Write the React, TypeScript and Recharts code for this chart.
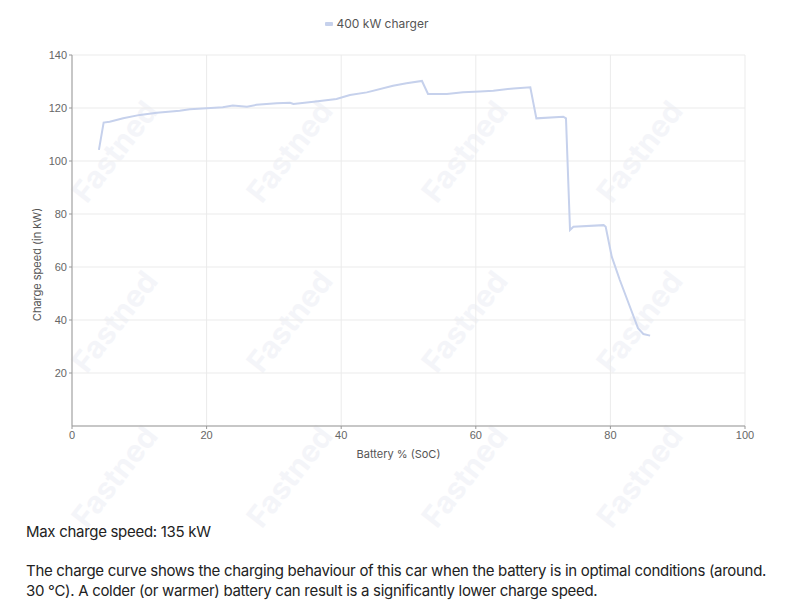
import { LineChart, Line, XAxis, YAxis, CartesianGrid, Legend } from 'recharts';

// values
const soc = [4.0, 4.7, 5.6, 7.6, 10.1, 12.6, 16.0, 17.5, 20.0, 22.4, 23.9, 26.0, 27.4, 30.4, 32.4, 32.9, 35.9, 39.3, 41.3, 43.8, 47.7, 49.7, 52.0, 52.9, 55.7, 58.1, 60.6, 62.6, 65.6, 68.1, 69.0, 73.0, 73.4, 74.0, 74.5, 79.0, 79.3, 80.2, 81.4, 82.9, 84.1, 84.9, 85.9];
const power = [104.2, 114.5, 114.8, 116.1, 117.4, 118.2, 119.0, 119.5, 119.9, 120.3, 120.9, 120.5, 121.2, 121.8, 122.0, 121.5, 122.4, 123.4, 124.9, 125.9, 128.4, 129.3, 130.2, 125.3, 125.3, 125.9, 126.2, 126.5, 127.4, 127.8, 116.1, 116.7, 116.1, 74.0, 75.2, 75.8, 75.2, 63.9, 55.1, 45.0, 36.9, 34.7, 34.1];
const xTicks = [0, 20, 40, 60, 80, 100];
const yTicks = [20, 40, 60, 80, 100, 120, 140];

const data = soc.map((s, i) => ({ soc: s, kw: power[i] }));

const lineColor = '#c6d1ec';
const tickStyle = { fontSize: 11, fill: '#666', fontFamily: '"Liberation Sans", Arial, sans-serif' };
const labelFont = 'Inter, "Noto Sans", sans-serif';

// faint brand watermark behind the chart
const markCols = [115, 290, 465, 640];
const markRows = [150, 320, 475];

function Watermark() {
  return (
    <svg width={784} height={560} style={{ position: 'absolute', left: 0, top: 0 }}>
      {markRows.map((y) =>
        markCols.map((x) => (
          <text
            key={`${x}-${y}`}
            x={x}
            y={y}
            transform={`rotate(-52 ${x} ${y})`}
            textAnchor="middle"
            fontSize={30}
            fontWeight={700}
            fontFamily={labelFont}
            fill="#f4f5f9"
          >
            Fastned
          </text>
        ))
      )}
    </svg>
  );
}

function LegendContent({ payload }: any) {
  return (
    <div style={{ display: 'flex', justifyContent: 'center', alignItems: 'center', fontFamily: labelFont, fontSize: 12, color: '#555' }}>
      {(payload || []).map((p: any) => (
        <span key={p.value} style={{ display: 'flex', alignItems: 'center' }}>
          <span style={{ width: 8, height: 4, background: p.color, borderRadius: 1, marginRight: 4 }} />
          {p.value}
        </span>
      ))}
    </div>
  );
}

function YLabel({ viewBox }: any) {
  const x = viewBox.x + 29;
  const y = viewBox.y + viewBox.height / 2 + 24;
  return (
    <text x={x} y={y} transform={`rotate(-90 ${x} ${y})`} textAnchor="middle" dominantBaseline="central" fontSize={11} fill="#555" fontFamily={labelFont}>
      Charge speed (in kW)
    </text>
  );
}

function XLabel({ viewBox }: any) {
  const x = viewBox.x + viewBox.width / 2 - 10;
  const y = viewBox.y + 32;
  return (
    <text x={x} y={y} textAnchor="middle" fontSize={11} fill="#555" fontFamily={labelFont}>
      Battery % (SoC)
    </text>
  );
}

export default function App() {
  return (
    <div style={{ position: 'relative', width: 784 }}>
      <Watermark />
      <LineChart width={784} height={490} data={data} margin={{ top: 32, right: 47, left: 0, bottom: 22 }}>
        <CartesianGrid stroke="#ebebeb" />
        <XAxis
          dataKey="soc"
          type="number"
          domain={[0, 100]}
          ticks={xTicks}
          tick={tickStyle}
          stroke="#999"
          tickSize={3}
          height={50}
          label={<XLabel />}
        />
        <YAxis
          type="number"
          domain={[0, 140]}
          ticks={yTicks}
          tick={tickStyle}
          stroke="#999"
          tickSize={3}
          width={64}
          label={<YLabel />}
        />
        <Legend verticalAlign="top" content={<LegendContent />} wrapperStyle={{ top: 8 }} />
        <Line
          type="linear"
          dataKey="kw"
          name="400 kW charger"
          stroke={lineColor}
          strokeWidth={2}
          dot={false}
          isAnimationActive={false}
        />
      </LineChart>
      <div style={{ position: 'relative', fontFamily: labelFont, color: '#222', fontSize: 15, letterSpacing: -0.3, paddingLeft: 18, width: 748 }}>
        <p style={{ margin: '24px 0 0 0' }}>Max charge speed: 135 kW</p>
        <p style={{ margin: '20px 0 0 0', lineHeight: '20px' }}>
          The charge curve shows the charging behaviour of this car when the battery is in optimal conditions (around. 30 °C). A colder (or warmer) battery can result is a significantly lower charge speed.
        </p>
      </div>
    </div>
  );
}
